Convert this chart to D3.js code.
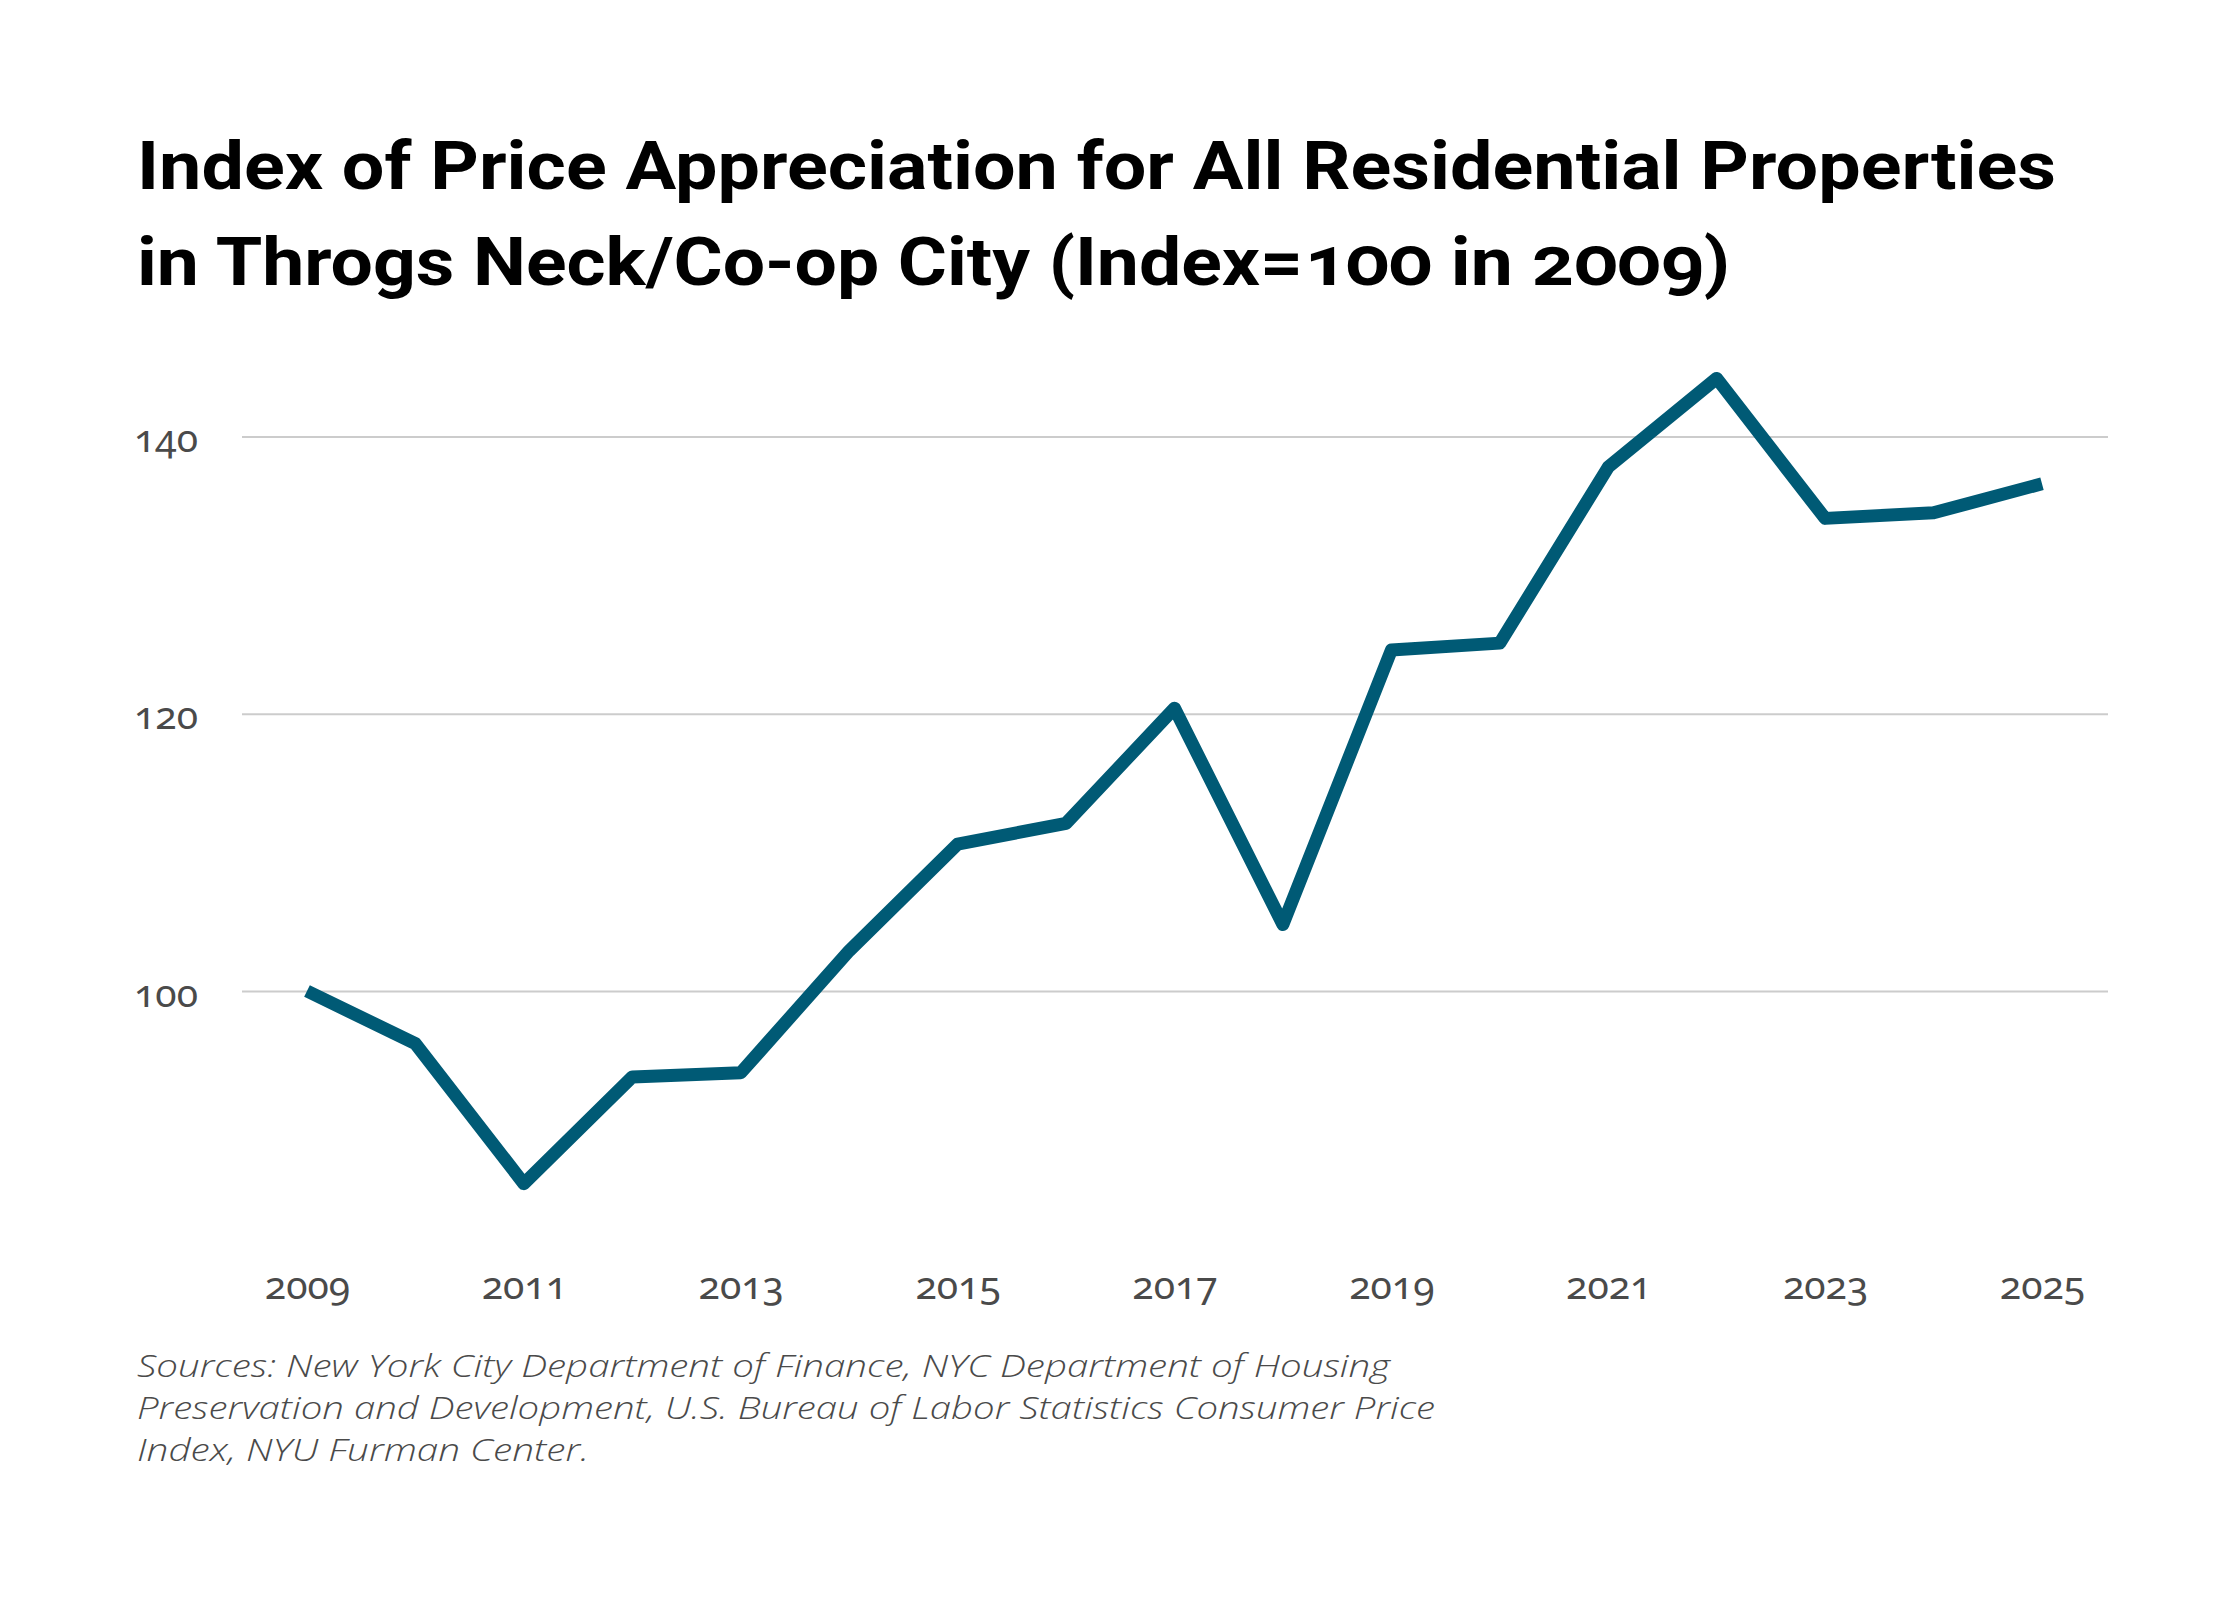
<!DOCTYPE html>
<html>
<head>
<meta charset="utf-8">
<script src="https://cdn.jsdelivr.net/npm/d3@7"></script>
<style>
  html, body { margin: 0; padding: 0; background: #ffffff; }
  svg { display: block; }
</style>
</head>
<body>
<svg id="chart" width="2240" height="1600"></svg>
<script>
const titleLines = [
  "Index of Price Appreciation for All Residential Properties",
  "in Throgs Neck/Co-op City (Index=100 in 2009)"
];
const sourceLines = [
  "Sources: New York City Department of Finance, NYC Department of Housing",
  "Preservation and Development, U.S. Bureau of Labor Statistics Consumer Price",
  "Index, NYU Furman Center."
];
const years = [2009, 2010, 2011, 2012, 2013, 2014, 2015, 2016, 2017, 2018, 2019, 2020, 2021, 2022, 2023, 2024, 2025];
const values = [100, 96.2, 86.1, 93.8, 94.1, 102.9, 110.6, 112.1, 120.4, 104.8, 124.6, 125.1, 137.8, 144.2, 134.1, 134.5, 136.6];
const yTicks = [100, 120, 140];
const xTicks = [2009, 2011, 2013, 2015, 2017, 2019, 2021, 2023, 2025];

const svg = d3.select("#chart");

const x = d3.scaleLinear().domain([2009, 2025]).range([307, 2042]);
const y = d3.scaleLinear().domain([80, 150]).range([1268.2, 298]);

const gridX0 = 242, gridX1 = 2108;

// Gridlines + y labels via axis
const yAxis = d3.axisLeft(y)
  .tickValues(yTicks)
  .tickSize(-(gridX1 - gridX0))
  .tickPadding(44)
  .tickFormat(d3.format("d"));

const gy = svg.append("g")
  .attr("transform", `translate(${gridX0},0)`)
  .call(yAxis);
gy.select(".domain").remove();
gy.selectAll(".tick line").attr("stroke", "#cccccc").attr("stroke-width", 2);
gy.selectAll(".tick text")
  .attr("fill", "#4a4a4a")
  .attr("font-family", "'Noto Sans', 'Open Sans', sans-serif")
  .attr("font-size", 39)
  .style("font-variant-numeric", "oldstyle-nums")
  .attr("dy", 15)
  .attr("x", -44);

// X axis labels
const xAxis = d3.axisBottom(x)
  .tickValues(xTicks)
  .tickSize(0)
  .tickPadding(0)
  .tickFormat(d3.format("d"));
const gx = svg.append("g")
  .attr("transform", "translate(0,1299)")
  .call(xAxis);
gx.select(".domain").remove();
gx.selectAll(".tick text")
  .attr("fill", "#4a4a4a")
  .attr("font-family", "'Noto Sans', 'Open Sans', sans-serif")
  .attr("font-size", 39)
  .style("font-variant-numeric", "oldstyle-nums")
  .attr("y", 0)
  .attr("dy", 0);

// Line
const line = d3.line()
  .x((d, i) => x(years[i]))
  .y(d => y(d));
svg.append("path")
  .datum(values)
  .attr("d", line)
  .attr("fill", "none")
  .attr("stroke", "#005a75")
  .attr("stroke-width", 13)
  .attr("stroke-linejoin", "round")
  .attr("stroke-linecap", "butt");

// Title
const titleG = svg.append("g");
const titleBaselines = [189, 285];
const titleRight = [2056, 1730];
titleLines.forEach((t, i) => {
  titleG.append("text")
    .attr("x", 137)
    .attr("y", titleBaselines[i])
    .attr("font-family", "Roboto, 'Open Sans', sans-serif")
    .attr("font-weight", 700)
    .attr("font-size", 66)
    .attr("fill", "#000000")
    .style("font-variant-numeric", "oldstyle-nums")
    .attr("textLength", titleRight[i] - 137)
    .attr("lengthAdjust", "spacingAndGlyphs")
    .text(t);
});

// Sources
const srcBaselines = [1377, 1419, 1461];
const srcRight = [1390, 1435, 589];
sourceLines.forEach((t, i) => {
  svg.append("text")
    .attr("x", 137)
    .attr("y", srcBaselines[i])
    .attr("font-family", "'Open Sans', 'Noto Sans', sans-serif")
    .attr("font-style", "italic")
    .attr("font-weight", 300)
    .attr("font-size", 32)
    .attr("fill", "#4a4a4a")
    .attr("textLength", srcRight[i] - 137)
    .attr("lengthAdjust", "spacingAndGlyphs")
    .text(t);
});
</script>
</body>
</html>
